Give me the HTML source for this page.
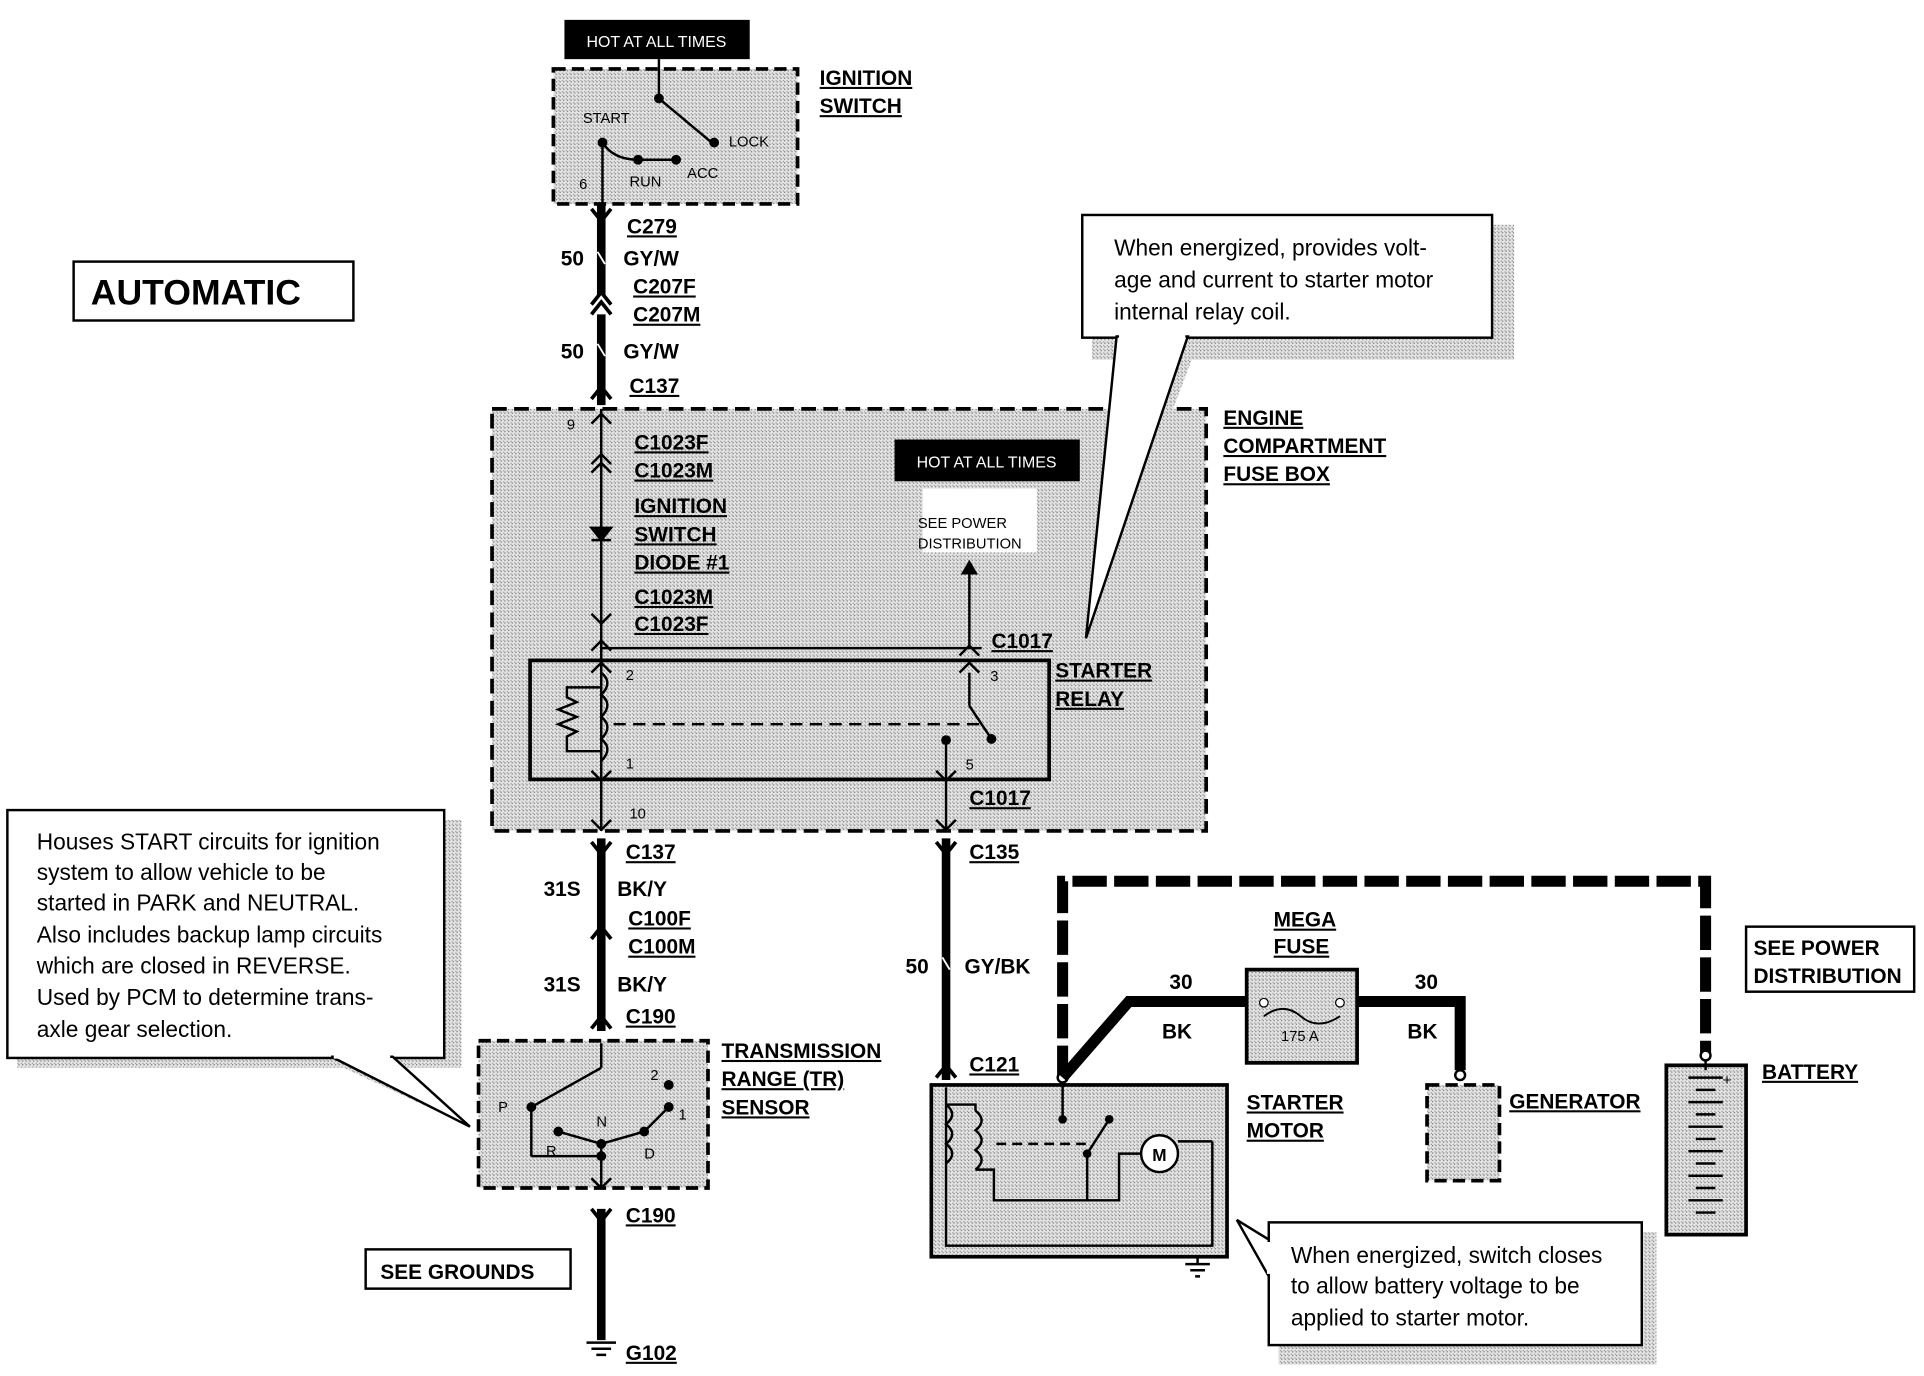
<!DOCTYPE html>
<html><head><meta charset="utf-8"><style>
html,body{margin:0;padding:0;background:#fff}
svg{display:block}
text{font-family:"Liberation Sans",sans-serif}
.b{font-weight:bold;font-size:17px;text-decoration:underline}
.n{font-weight:bold;font-size:17px}
.s{font-size:12px}
.c{font-size:18.5px}
</style></head><body>
<svg width="1924" height="1376" viewBox="0 0 1568 1121" xmlns="http://www.w3.org/2000/svg">
<defs>
<pattern id="g" width="3" height="3" patternUnits="userSpaceOnUse"><rect width="3" height="3" fill="#e4e4e4"/><rect width="1" height="1" fill="#777"/><rect x="2" y="2" width="1" height="1" fill="#999"/></pattern>
</defs>
<rect width="1568" height="1121" fill="#fff"/>

<!-- top HOT box -->
<rect x="460" y="16" width="151" height="32" fill="#000"/>
<text x="535" y="38" fill="#fff" font-size="13" text-anchor="middle">HOT AT ALL TIMES</text>
<!-- ignition switch -->
<rect x="451" y="56" width="199" height="110" fill="url(#g)" stroke="#000" stroke-width="3" stroke-dasharray="10,5"/>
<line x1="537" y1="48" x2="537" y2="80" stroke="#000" stroke-width="2"/>
<line x1="537" y1="80" x2="580" y2="116" stroke="#000" stroke-width="2"/>
<line x1="491" y1="116" x2="491" y2="166" stroke="#000" stroke-width="2"/>
<path d="M491 116 Q500 130 520 130 L550 130" stroke="#000" stroke-width="2" fill="none"/>
<circle cx="537" cy="80" r="4"/><circle cx="491" cy="116" r="4"/><circle cx="520" cy="130" r="4"/><circle cx="551" cy="130" r="4"/><circle cx="582" cy="116" r="4"/>
<text x="475" y="100" class="s">START</text><text x="594" y="119" class="s">LOCK</text>
<text x="513" y="152" class="s">RUN</text><text x="560" y="145" class="s">ACC</text><text x="472" y="154" class="s">6</text>
<text x="668" y="69" class="b">IGNITION</text><text x="668" y="92" class="b">SWITCH</text>
<!-- AUTOMATIC -->
<rect x="60" y="213" width="228" height="48" fill="#fff" stroke="#000" stroke-width="2"/>
<text x="74" y="248" font-size="29" font-weight="bold">AUTOMATIC</text>
<!-- wire top -->
<line x1="490" y1="166" x2="490" y2="330" stroke="#000" stroke-width="7"/>
<g stroke="#fff" stroke-width="1.5"><line x1="487" y1="205" x2="493" y2="215"/><line x1="487" y1="280" x2="493" y2="290"/></g>
<path d="M482 170 L490 180 L498 170" stroke="#000" stroke-width="3" fill="none"/>
<path d="M482 248 L490 238 L498 248 M482 256 L490 246 L498 256" stroke="#000" stroke-width="3" fill="#fff"/>
<path d="M482 325 L490 315 L498 325" stroke="#000" stroke-width="3" fill="none"/>
<text x="511" y="190" class="b">C279</text><text x="457" y="216" class="n">50</text><text x="508" y="216" class="n">GY/W</text>
<text x="516" y="239" class="b">C207F</text><text x="516" y="262" class="b">C207M</text>
<text x="457" y="292" class="n">50</text><text x="508" y="292" class="n">GY/W</text><text x="513" y="320" class="b">C137</text>
<!-- engine fuse box -->
<rect x="401" y="333" width="582" height="344" fill="url(#g)" stroke="#000" stroke-width="3" stroke-dasharray="12,6"/>
<text x="997" y="346" class="b">ENGINE</text><text x="997" y="369" class="b">COMPARTMENT</text><text x="997" y="392" class="b">FUSE BOX</text>
<line x1="490" y1="333" x2="490" y2="677" stroke="#000" stroke-width="2"/>
<path d="M482 345 L490 337 L498 345 M482 378 L490 370 L498 378 M482 385 L490 377 L498 385 M482 500 L490 508 L498 500 M482 530 L490 522 L498 530" stroke="#000" stroke-width="2" fill="none"/>
<path d="M482 430 L498 430 L490 440 Z M482 440 L498 440" stroke="#000" stroke-width="2"/>
<text x="462" y="350" class="s">9</text>
<text x="517" y="366" class="b">C1023F</text><text x="517" y="389" class="b">C1023M</text>
<text x="517" y="418" class="b">IGNITION</text><text x="517" y="441" class="b">SWITCH</text><text x="517" y="464" class="b">DIODE #1</text>
<text x="517" y="492" class="b">C1023M</text><text x="517" y="514" class="b">C1023F</text>
<rect x="729" y="358" width="151" height="34" fill="#000"/>
<text x="804" y="381" fill="#fff" font-size="13" text-anchor="middle">HOT AT ALL TIMES</text>
<rect x="752" y="398" width="93" height="52" fill="#fff"/>
<text x="748" y="430" class="s">SEE POWER</text><text x="748" y="447" class="s">DISTRIBUTION</text>
<line x1="790" y1="528" x2="790" y2="462" stroke="#000" stroke-width="2"/>
<path d="M783 468 L790 456 L797 468 Z"/>
<line x1="490" y1="528" x2="800" y2="528" stroke="#000" stroke-width="2"/>
<path d="M782 534 L790 526 L798 534" stroke="#000" stroke-width="2" fill="none"/>
<text x="808" y="528" class="b">C1017</text>
<!-- starter relay -->
<rect x="432" y="538" width="423" height="97" fill="none" stroke="#000" stroke-width="3"/>
<text x="860" y="552" class="b">STARTER</text><text x="860" y="575" class="b">RELAY</text>
<text x="510" y="554" class="s">2</text><text x="510" y="626" class="s">1</text><text x="807" y="555" class="s">3</text><text x="787" y="627" class="s">5</text>
<path d="M490 548 Q500 556 490 566 Q500 574 490 584 Q500 592 490 602 Q500 610 490 620" stroke="#000" stroke-width="2" fill="none"/>
<path d="M490 560 L462 560 L462 568 L470 572 L455 578 L470 584 L455 590 L470 596 L462 600 L462 612 L490 612" stroke="#000" stroke-width="2" fill="none"/>
<line x1="500" y1="590" x2="800" y2="590" stroke="#000" stroke-width="2" stroke-dasharray="10,6"/>
<line x1="790" y1="548" x2="790" y2="575" stroke="#000" stroke-width="2"/><line x1="790" y1="575" x2="808" y2="602" stroke="#000" stroke-width="2"/>
<circle cx="808" cy="602" r="4"/><circle cx="771" cy="603" r="4"/>
<line x1="771" y1="603" x2="771" y2="677" stroke="#000" stroke-width="2"/>
<path d="M482 548 L490 540 L498 548 M782 548 L790 540 L798 548 M482 628 L490 636 L498 628 M763 628 L771 636 L779 628 M482 668 L490 676 L498 668 M763 668 L771 676 L779 668" stroke="#000" stroke-width="2" fill="none"/>
<text x="513" y="667" class="s">10</text><text x="790" y="656" class="b">C1017</text>
<!-- lower left wire -->
<line x1="490" y1="683" x2="490" y2="840" stroke="#000" stroke-width="7"/>
<path d="M482 686 L490 696 L498 686 M482 765 L490 755 L498 765 M482 838 L490 828 L498 838" stroke="#000" stroke-width="3" fill="none"/>
<text x="510" y="700" class="b">C137</text><text x="443" y="730" class="n">31S</text><text x="503" y="730" class="n">BK/Y</text>
<text x="512" y="754" class="b">C100F</text><text x="512" y="777" class="b">C100M</text>
<text x="443" y="808" class="n">31S</text><text x="503" y="808" class="n">BK/Y</text><text x="510" y="834" class="b">C190</text>
<!-- left callout -->
<rect x="14" y="668" width="362" height="202" fill="url(#g)"/>
<polygon points="280,870 383,918 330,870" fill="url(#g)"/>
<rect x="6" y="660" width="356" height="202" fill="#fff" stroke="#000" stroke-width="2"/>
<polygon points="270,861 383,918 320,861" fill="#fff" stroke="#000" stroke-width="2"/>
<line x1="272" y1="861" x2="318" y2="861" stroke="#fff" stroke-width="3"/>
<text x="30" y="692" class="c">Houses START circuits for ignition</text>
<text x="30" y="717" class="c">system to allow vehicle to be</text>
<text x="30" y="742" class="c">started in PARK and NEUTRAL.</text>
<text x="30" y="768" class="c">Also includes backup lamp circuits</text>
<text x="30" y="793" class="c">which are closed in REVERSE.</text>
<text x="30" y="819" class="c">Used by PCM to determine trans-</text>
<text x="30" y="845" class="c">axle gear selection.</text>
<!-- TR sensor -->
<rect x="390" y="848" width="187" height="120" fill="url(#g)" stroke="#000" stroke-width="3" stroke-dasharray="10,5"/>
<text x="588" y="862" class="b">TRANSMISSION</text><text x="588" y="885" class="b">RANGE (TR)</text><text x="588" y="908" class="b">SENSOR</text>
<line x1="490" y1="850" x2="490" y2="870" stroke="#000" stroke-width="2"/>
<line x1="490" y1="870" x2="433" y2="902" stroke="#000" stroke-width="2"/>
<line x1="433" y1="902" x2="433" y2="942" stroke="#000" stroke-width="2"/><line x1="433" y1="942" x2="490" y2="942" stroke="#000" stroke-width="2"/>
<line x1="490" y1="932" x2="490" y2="968" stroke="#000" stroke-width="2"/>
<line x1="455" y1="922" x2="490" y2="932" stroke="#000" stroke-width="2"/><line x1="525" y1="922" x2="490" y2="932" stroke="#000" stroke-width="2"/>
<line x1="525" y1="922" x2="545" y2="902" stroke="#000" stroke-width="2"/>
<circle cx="433" cy="902" r="4"/><circle cx="455" cy="922" r="4"/><circle cx="490" cy="932" r="4"/><circle cx="525" cy="922" r="4"/><circle cx="545" cy="902" r="4"/><circle cx="545" cy="884" r="4"/><circle cx="490" cy="942" r="4"/>
<text x="406" y="906" class="s">P</text><text x="445" y="942" class="s">R</text><text x="486" y="918" class="s">N</text><text x="525" y="944" class="s">D</text><text x="530" y="880" class="s">2</text><text x="553" y="912" class="s">1</text>
<path d="M482 960 L490 968 L498 960" stroke="#000" stroke-width="2" fill="none"/>
<!-- ground wire -->
<line x1="490" y1="985" x2="490" y2="1092" stroke="#000" stroke-width="7"/>
<path d="M482 985 L490 995 L498 985" stroke="#000" stroke-width="3" fill="none"/>
<text x="510" y="996" class="b">C190</text>
<rect x="298" y="1018" width="167" height="32" fill="#fff" stroke="#000" stroke-width="2"/>
<text x="310" y="1042" class="n">SEE GROUNDS</text>
<path d="M478 1094 L502 1094 M482 1099 L498 1099 M486 1104 L494 1104" stroke="#000" stroke-width="2"/>
<text x="510" y="1108" class="b">G102</text>
<!-- middle wire -->
<line x1="771" y1="683" x2="771" y2="880" stroke="#000" stroke-width="7"/>
<path d="M763 686 L771 696 L779 686 M763 878 L771 868 L779 878" stroke="#000" stroke-width="3" fill="none"/>
<line x1="768" y1="780" x2="774" y2="790" stroke="#fff" stroke-width="1.5"/>
<text x="790" y="700" class="b">C135</text><text x="738" y="793" class="n">50</text><text x="786" y="793" class="n">GY/BK</text><text x="790" y="873" class="b">C121</text>
<!-- big dashed thick wire -->
<path d="M866 880 L866 718 L1390 718 L1390 860" stroke="#000" stroke-width="9" fill="none" stroke-dasharray="28,6"/>
<!-- starter motor -->
<rect x="759" y="884" width="241" height="140" fill="url(#g)" stroke="#000" stroke-width="3"/>
<text x="1016" y="904" class="b">STARTER</text><text x="1016" y="927" class="b">MOTOR</text>
<path d="M771 886 L771 1015 L988 1015 L988 930" stroke="#000" stroke-width="2" fill="none"/>
<path d="M771 900 Q781 908 771 916 Q781 924 771 932 Q781 940 771 948" stroke="#000" stroke-width="2" fill="none"/>
<path d="M795 905 Q805 913 795 921 Q805 929 795 937 Q805 945 795 953" stroke="#000" stroke-width="2" fill="none"/>
<path d="M771 900 L795 900 L795 905 M795 953 L810 953 L810 978 L912 978 L912 940 L930 940" stroke="#000" stroke-width="2" fill="none"/>
<line x1="812" y1="932" x2="890" y2="932" stroke="#000" stroke-width="2" stroke-dasharray="8,5"/>
<line x1="866" y1="884" x2="866" y2="912" stroke="#000" stroke-width="2"/>
<line x1="886" y1="940" x2="904" y2="912" stroke="#000" stroke-width="2"/>
<line x1="886" y1="940" x2="886" y2="978" stroke="#000" stroke-width="2"/>
<circle cx="866" cy="878" r="4" fill="#fff" stroke="#000" stroke-width="2"/><circle cx="866" cy="912" r="3.5"/><circle cx="904" cy="912" r="3.5"/><circle cx="886" cy="940" r="3.5"/>
<circle cx="945" cy="940" r="15" fill="#fff" stroke="#000" stroke-width="2"/><text x="939" y="946" font-size="14" font-weight="bold">M</text>
<line x1="960" y1="930" x2="988" y2="930" stroke="#000" stroke-width="2"/>
<path d="M976 1024 L976 1030 M966 1030 L986 1030 M970 1035 L982 1035 M974 1040 L978 1040" stroke="#000" stroke-width="2"/>
<!-- mega fuse -->
<path d="M866 878 L920 816 L1016 816 M1106 816 L1190 816 L1190 872" stroke="#000" stroke-width="9" fill="none"/>
<rect x="1016" y="790" width="90" height="76" fill="url(#g)" stroke="#000" stroke-width="3"/>
<path d="M1030 828 Q1046 816 1060 828 Q1074 840 1092 828" stroke="#000" stroke-width="1.5" fill="none"/>
<circle cx="1030" cy="817" r="3.5" fill="#fff" stroke="#000"/><circle cx="1092" cy="817" r="3.5" fill="#fff" stroke="#000"/>
<text x="1044" y="848" class="s">175 A</text>
<text x="1038" y="755" class="b">MEGA</text><text x="1038" y="777" class="b">FUSE</text>
<text x="953" y="806" class="n">30</text><text x="947" y="846" class="n">BK</text><text x="1153" y="806" class="n">30</text><text x="1147" y="846" class="n">BK</text>
<!-- generator -->
<rect x="1163" y="884" width="59" height="78" fill="url(#g)" stroke="#000" stroke-width="3" stroke-dasharray="10,5"/>
<circle cx="1190" cy="876" r="4" fill="#fff" stroke="#000" stroke-width="2"/>
<text x="1230" y="903" class="b">GENERATOR</text>
<!-- battery -->
<rect x="1358" y="868" width="65" height="138" fill="url(#g)" stroke="#000" stroke-width="3"/>
<circle cx="1390" cy="860" r="4" fill="#fff" stroke="#000" stroke-width="2"/>
<line x1="1390" y1="864" x2="1390" y2="872" stroke="#000" stroke-width="2"/>
<g stroke="#000" stroke-width="2">
<line x1="1376" y1="878" x2="1404" y2="878"/><line x1="1382" y1="888" x2="1398" y2="888"/><line x1="1376" y1="898" x2="1404" y2="898"/><line x1="1382" y1="908" x2="1398" y2="908"/><line x1="1376" y1="918" x2="1404" y2="918"/><line x1="1382" y1="928" x2="1398" y2="928"/><line x1="1376" y1="938" x2="1404" y2="938"/><line x1="1382" y1="948" x2="1398" y2="948"/><line x1="1376" y1="958" x2="1404" y2="958"/><line x1="1382" y1="968" x2="1398" y2="968"/><line x1="1376" y1="978" x2="1404" y2="978"/><line x1="1382" y1="988" x2="1398" y2="988"/></g>
<text x="1404" y="884" class="s">+</text>
<text x="1436" y="879" class="b">BATTERY</text>
<rect x="1423" y="755" width="137" height="53" fill="#fff" stroke="#000" stroke-width="2"/>
<text x="1429" y="778" class="n">SEE POWER</text><text x="1429" y="801" class="n">DISTRIBUTION</text>
<!-- bottom callout -->
<rect x="1042" y="1004" width="308" height="108" fill="url(#g)"/>
<rect x="1034" y="996" width="304" height="100" fill="#fff" stroke="#000" stroke-width="2"/>
<polygon points="1034,1010 1008,994 1034,1040" fill="#fff" stroke="#000" stroke-width="2"/>
<line x1="1034" y1="1012" x2="1034" y2="1038" stroke="#fff" stroke-width="3"/>
<text x="1052" y="1029" class="c">When energized, switch closes</text>
<text x="1052" y="1054" class="c">to allow battery voltage to be</text>
<text x="1052" y="1080" class="c">applied to starter motor.</text>
<!-- top callout -->
<rect x="890" y="183" width="344" height="110" fill="url(#g)"/>
<polygon points="915,283 885,520 975,283" fill="url(#g)"/>
<rect x="882" y="175" width="334" height="100" fill="#fff" stroke="#000" stroke-width="2"/>
<polygon points="910,274 885,520 968,274" fill="#fff" stroke="#000" stroke-width="2"/>
<line x1="912" y1="274" x2="966" y2="274" stroke="#fff" stroke-width="3"/>
<text x="908" y="208" class="c">When energized, provides volt-</text>
<text x="908" y="234" class="c">age and current to starter motor</text>
<text x="908" y="260" class="c">internal relay coil.</text>
</svg>
</body></html>
